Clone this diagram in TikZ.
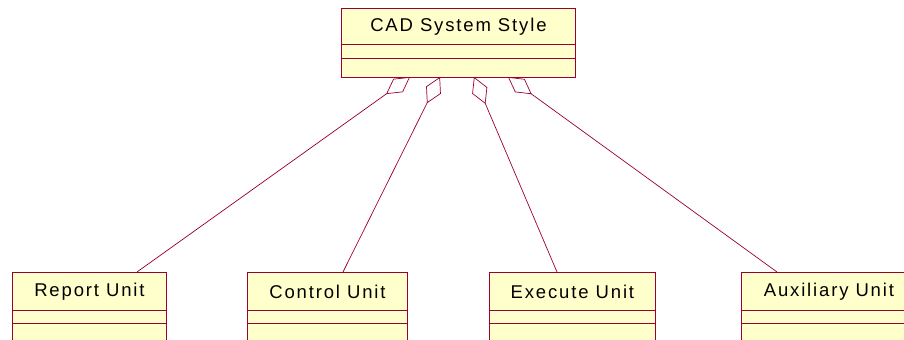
\documentclass[tikz,border=0pt]{standalone}
\usepackage{fontspec}
\newfontfamily\umlfont{Liberation Sans}[LetterSpace=10]
\usetikzlibrary{calc,arrows.meta}
\definecolor{umlred}{RGB}{153,0,51}
\definecolor{umlyellow}{RGB}{255,255,204}

\tikzset{
  classname/.style={draw=umlred, fill=umlyellow, line width=0.7pt, anchor=north west,
    inner sep=0pt, font=\umlfont\fontsize{15.8}{18}\selectfont},
  classpart/.style={draw=umlred, fill=umlyellow, line width=0.7pt},
  aggr/.style={draw=umlred, line width=0.6pt, -{Diamond[open,length=25pt,width=14pt]}}
}

\begin{document}
\begin{tikzpicture}[x=0.3mm, y=-0.3mm]
\useasboundingbox (0,0) rectangle (904,340);
\clip (0,0) rectangle (904,340);
% end points of the aggregations
\coordinate (d1) at (410,77);
\coordinate (d2) at (440,77);
\coordinate (d3) at (474,77);
\coordinate (d4) at (508,77);
\coordinate (e1) at (137,272);
\coordinate (e2) at (343,272);
\coordinate (e3) at (557,272);
\coordinate (e4) at (777,272);
% aggregations
\draw [aggr] (e1) -- (d1);
\draw [aggr] (e2) -- (d2);
\draw [aggr] (e3) -- (d3);
\draw [aggr] (e4) -- (d4);
% top class
\node [classname, minimum width=70.2mm, minimum height=10.8mm] (cad) at (341,8) {CAD System Style};
\draw [classpart] (cad.south west) rectangle ++(234,14);
\draw [classpart] ($(cad.south west)+(0,14)$) rectangle ++(234,19);
% units
\node [classname, minimum width=46.2mm, minimum height=11.4mm] (rep) at (12,272) {Report Unit};
\draw [classpart] (rep.south west) rectangle ++(154,13);
\draw [classpart] ($(rep.south west)+(0,13)$) rectangle ++(154,30);
\node [classname, minimum width=48mm, minimum height=11.4mm] (ctl) at (247,272) {Control Unit};
\draw [classpart] (ctl.south west) rectangle ++(160,13);
\draw [classpart] ($(ctl.south west)+(0,13)$) rectangle ++(160,30);
\node [classname, minimum width=49.8mm, minimum height=11.4mm] (exe) at (489,272) {Execute Unit};
\draw [classpart] (exe.south west) rectangle ++(166,13);
\draw [classpart] ($(exe.south west)+(0,13)$) rectangle ++(166,30);
\node [classname, minimum width=52.5mm, minimum height=11.4mm] (aux) at (741,272) {Auxiliary Unit};
\draw [classpart] (aux.south west) rectangle ++(175,13);
\draw [classpart] ($(aux.south west)+(0,13)$) rectangle ++(175,30);
\end{tikzpicture}
\end{document}
